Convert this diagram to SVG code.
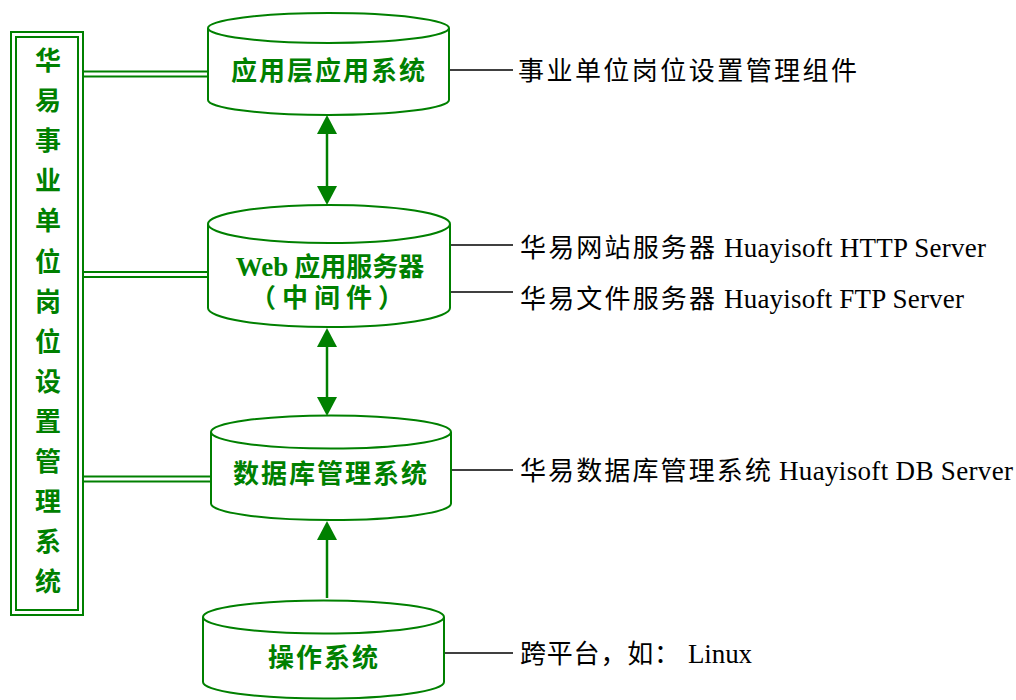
<svg xmlns="http://www.w3.org/2000/svg" width="1016" height="700" viewBox="0 0 1016 700">
<style>
.g{fill:none;stroke:#008000;stroke-width:2}
.cyl{fill:#fff;stroke:#008000;stroke-width:2}
.blk{stroke:#000;stroke-width:1.6;fill:none}
.lbl{font-family:"Noto Sans CJK SC","Liberation Sans",sans-serif;font-weight:bold;fill:#008000;font-size:26px;text-anchor:middle}
.web{font-family:"Liberation Serif","Noto Sans CJK SC",serif;font-size:27px}
.cn{font-family:"Noto Sans CJK SC",sans-serif;font-size:26px;fill:#000}
.en{font-family:"Liberation Serif",serif;font-size:27px;fill:#000}
.v{font-family:"Noto Sans CJK SC",sans-serif;font-weight:bold;fill:#008000;font-size:26px;text-anchor:middle}
</style>
<defs>
<marker id="ah" viewBox="0 0 19 20" refX="0" refY="10" markerWidth="19" markerHeight="20" markerUnits="userSpaceOnUse" orient="auto-start-reverse">
<path d="M0,0 L19,10 L0,20 Z" fill="#008000"/>
</marker>
</defs>

<g id="side-box">
<rect class="g" x="11" y="32" width="72" height="583"/>
<rect class="g" x="16" y="37" width="62" height="573"/>
<text class="v" x="48" y="70">华</text>
<text class="v" x="48" y="110">易</text>
<text class="v" x="48" y="150">事</text>
<text class="v" x="48" y="190">业</text>
<text class="v" x="48" y="230">单</text>
<text class="v" x="48" y="271">位</text>
<text class="v" x="48" y="311">岗</text>
<text class="v" x="48" y="351">位</text>
<text class="v" x="48" y="391">设</text>
<text class="v" x="48" y="431">置</text>
<text class="v" x="48" y="471">管</text>
<text class="v" x="48" y="511">理</text>
<text class="v" x="48" y="551">系</text>
<text class="v" x="48" y="591">统</text>
</g>

<g id="connectors">
<line class="g" x1="83" y1="71.5" x2="209" y2="71.5"/>
<line class="g" x1="83" y1="76.5" x2="209" y2="76.5"/>
<line class="g" x1="83" y1="272" x2="209" y2="272"/>
<line class="g" x1="83" y1="277" x2="209" y2="277"/>
<line class="g" x1="83" y1="476.5" x2="211" y2="476.5"/>
<line class="g" x1="83" y1="481.5" x2="211" y2="481.5"/>
<line stroke="#008000" stroke-width="2.5" x1="327" y1="134" x2="327" y2="186" marker-start="url(#ah)" marker-end="url(#ah)"/>
<line stroke="#008000" stroke-width="2.5" x1="327" y1="347" x2="327" y2="397" marker-start="url(#ah)" marker-end="url(#ah)"/>
<line stroke="#008000" stroke-width="2.5" x1="327" y1="598" x2="327" y2="540" marker-end="url(#ah)"/>
<line class="blk" x1="449" y1="70" x2="513" y2="70"/>
<line class="blk" x1="450" y1="245" x2="513" y2="245"/>
<line class="blk" x1="450" y1="292" x2="513" y2="292"/>
<line class="blk" x1="451" y1="470" x2="513" y2="470"/>
<line class="blk" x1="444" y1="653" x2="513" y2="653"/>
</g>

<g id="app-layer">
<path class="cyl" d="M208,28 V100 A120.5,15 0 0 0 449,100 V28"/>
<ellipse class="cyl" cx="328.5" cy="28" rx="120.5" ry="15"/>
<text class="lbl" x="329" y="80" letter-spacing="2">应用层应用系统</text>
</g>

<g id="web-server">
<path class="cyl" d="M208,224 V308 A121,19 0 0 0 450,308 V224"/>
<ellipse class="cyl" cx="329" cy="224" rx="121" ry="19"/>
<text class="lbl" x="330" y="276"><tspan class="web">Web</tspan> 应用服务器</text>
<text class="lbl" x="330" y="307" letter-spacing="6">（中间件）</text>
</g>

<g id="dbms">
<path class="cyl" d="M211,432 V503.5 A120,16.5 0 0 0 451,503.5 V432"/>
<ellipse class="cyl" cx="331" cy="432" rx="120" ry="16.5"/>
<text class="lbl" x="331" y="483" letter-spacing="2">数据库管理系统</text>
</g>

<g id="os">
<path class="cyl" d="M203,617 V682 A120.5,16.5 0 0 0 444,682 V617"/>
<ellipse class="cyl" cx="323.5" cy="617" rx="120.5" ry="16.5"/>
<text class="lbl" x="324" y="667" letter-spacing="2">操作系统</text>
</g>

<g id="labels">
<text class="cn" x="518" y="80" textLength="339" lengthAdjust="spacing">事业单位岗位设置管理组件</text>
<text class="cn" x="520" y="257" textLength="195" lengthAdjust="spacing">华易网站服务器</text>
<text class="en" x="724" y="257" textLength="262" lengthAdjust="spacing">Huayisoft HTTP Server</text>
<text class="cn" x="520" y="308" textLength="195" lengthAdjust="spacing">华易文件服务器</text>
<text class="en" x="724" y="308" textLength="240" lengthAdjust="spacing">Huayisoft FTP Server</text>
<text class="cn" x="520" y="480" textLength="251" lengthAdjust="spacing">华易数据库管理系统</text>
<text class="en" x="779" y="480" textLength="234" lengthAdjust="spacing">Huayisoft DB Server</text>
<text class="cn" x="520" y="663" textLength="160" lengthAdjust="spacing">跨平台，如：</text>
<text class="en" x="688" y="663" textLength="64" lengthAdjust="spacing">Linux</text>
</g>
</svg>
